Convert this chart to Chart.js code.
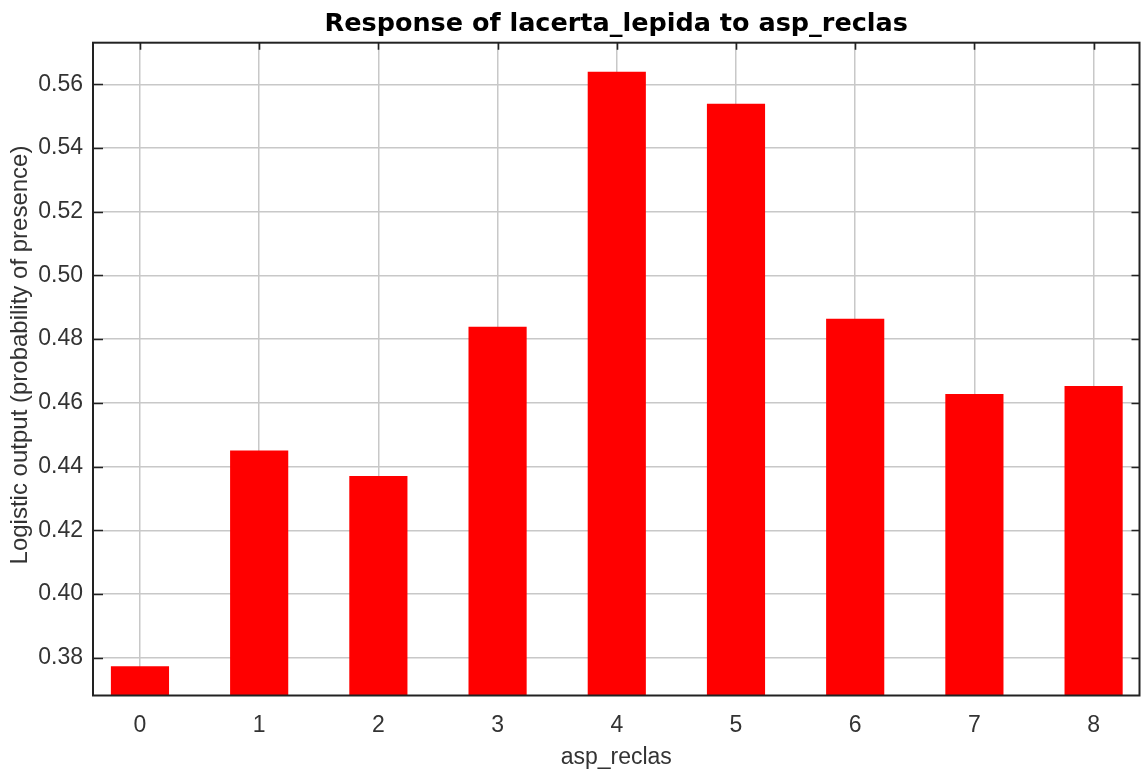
<!DOCTYPE html>
<html>
<head>
<meta charset="utf-8">
<title>Response of lacerta_lepida to asp_reclas</title>
<script src="https://cdn.jsdelivr.net/npm/chart.js@4/dist/chart.umd.min.js"></script>
<style>
  html, body { margin: 0; padding: 0; background: #ffffff; }
  #wrap { width: 1141px; height: 769px; }
</style>
</head>
<body>
<div id="wrap"><canvas id="chart" width="1141" height="769"></canvas></div>
<script>
// Aspect classes and the model's logistic output for each class
const categories = [0, 1, 2, 3, 4, 5, 6, 7, 8];
const responseValues = [0.3772, 0.4449, 0.4369, 0.4838, 0.5638, 0.5538, 0.4863, 0.4627, 0.4652];
const yTickValues = [0.38, 0.40, 0.42, 0.44, 0.46, 0.48, 0.50, 0.52, 0.54, 0.56];

const chartTitle = 'Response of lacerta_lepida to asp_reclas';
const xTitle = 'asp_reclas';
const yTitle = 'Logistic output (probability of presence)';

const points = categories.map((c, i) => ({ x: c, y: responseValues[i] }));

// Plot frame, inward tick marks on left/right/top, and the titles
// (the chart title is centred over the plot area rather than the canvas)
const framePlugin = {
  id: 'frame',
  afterDraw(chart) {
    const { ctx, chartArea: a, scales } = chart;
    ctx.save();
    ctx.strokeStyle = '#222222';
    ctx.lineWidth = 1.6;
    ctx.beginPath();
    yTickValues.forEach(v => {
      const y = Math.round(scales.y.getPixelForValue(v)) + 0.5;
      ctx.moveTo(a.left, y); ctx.lineTo(a.left + 10, y);
      ctx.moveTo(a.right, y); ctx.lineTo(a.right - 8, y);
    });
    categories.forEach(c => {
      const x = Math.round(scales.x.getPixelForValue(c)) + 0.5;
      ctx.moveTo(x, a.top); ctx.lineTo(x, a.top + 7);
    });
    ctx.stroke();
    ctx.lineWidth = 2;
    ctx.strokeRect(a.left, a.top, a.right - a.left, a.bottom - a.top);

    // chart title
    ctx.fillStyle = '#000000';
    ctx.font = 'bold 25.5px "DejaVu Sans"';
    ctx.textAlign = 'center';
    ctx.textBaseline = 'alphabetic';
    ctx.fillText(chartTitle, (a.left + a.right) / 2, 31);

    // y axis title, rotated
    ctx.fillStyle = '#333333';
    ctx.font = '24px "Liberation Sans"';
    ctx.translate(27, 355);
    ctx.rotate(-Math.PI / 2);
    ctx.textAlign = 'center';
    ctx.textBaseline = 'alphabetic';
    ctx.fillText(yTitle, 0, 0);
    ctx.restore();
  }
};

new Chart(document.getElementById('chart'), {
  type: 'bar',
  data: {
    datasets: [{
      data: points,
      backgroundColor: '#ff0000',
      borderWidth: 0,
      barThickness: 57.5
    }]
  },
  options: {
    responsive: false,
    animation: false,
    devicePixelRatio: 1,
    layout: { padding: { left: 0, right: 1.5, top: 42.7, bottom: 0 } },
    plugins: {
      legend: { display: false },
      tooltip: { enabled: false },
      title: { display: false }
    },
    scales: {
      x: {
        type: 'linear',
        offset: false,
        min: -0.394,
        max: 8.385,
        afterFit(scale) { scale.height = 73.5; },
        grid: { color: '#c8c8c8', lineWidth: 1.5, drawTicks: false, offset: false },
        border: { display: false },
        ticks: {
          stepSize: 1,
          includeBounds: false,
          padding: 16,
          color: '#333333',
          font: { family: 'Liberation Sans', size: 23 },
          callback: v => String(v)
        },
        title: {
          display: true,
          text: xTitle,
          color: '#333333',
          font: { family: 'Liberation Sans', size: 23, lineHeight: 1 },
          padding: { top: 0, bottom: 0 }
        }
      },
      y: {
        type: 'linear',
        min: 0.36813,
        max: 0.57306,
        afterFit(scale) { scale.width = 93; },
        grid: { color: '#c8c8c8', lineWidth: 1.5, drawTicks: false },
        border: { display: false },
        ticks: {
          stepSize: 0.02,
          includeBounds: false,
          padding: 10,
          color: '#333333',
          font: { family: 'Liberation Sans', size: 23 },
          callback: v => v.toFixed(2)
        },
        title: { display: false }
      }
    }
  },
  plugins: [framePlugin]
});
</script>
</body>
</html>
